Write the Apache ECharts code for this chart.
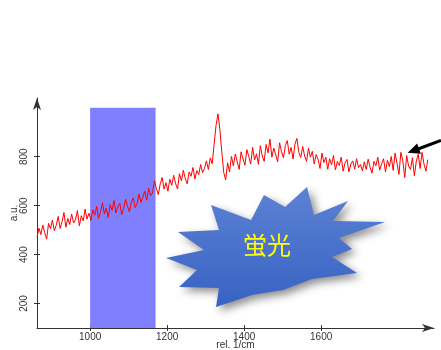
<!DOCTYPE html>
<html>
<head>
<meta charset="utf-8">
<style>
  html, body { margin: 0; padding: 0; background: #fff; }
  #chart { width: 441px; height: 350px; }
</style>
<script src="https://cdn.jsdelivr.net/npm/echarts@6/dist/echarts.min.js"></script>
</head>
<body>
<div id="chart"></div>
<script>
// Raman spectrum: intensity samples every 5 rel. 1/cm starting at 862
const waveStart = 862;
const waveStep = 5;
const intensity = [
  // 862 - 997
  470, 508, 482, 521, 490, 463, 528, 505, 541, 498, 520, 556, 507, 534, 572, 512, 548, 523, 566, 529, 543, 580, 518, 559, 538, 586, 545, 569,
  // 1002 - 1157
  540, 583, 561, 597, 548, 575, 612, 566, 590, 552, 604, 581, 621, 570, 596, 610, 563, 589, 626, 598, 575, 615, 632, 592, 608, 647, 613, 636, 659, 622, 671, 640,
  // 1162 - 1297
  652, 702, 671, 645, 689, 715, 668, 694, 659, 708, 683, 724, 690, 668, 731, 702, 745, 712, 689, 738, 720, 756, 709, 743, 727, 768, 735, 752,
  // 1302 - 1367 (band near 1332)
  783, 748, 795, 771, 852, 928, 975, 910, 818, 735, 705, 775, 738, 801,
  // 1372 - 1547
  763, 811, 779, 748, 820, 792, 765, 829, 801, 770, 838, 787, 812, 769, 845, 803, 781, 850, 816, 872, 798, 835, 808, 779, 857, 821, 796, 846, 866, 810, 838, 791, 852, 875, 818, 797,
  // 1552 - 1707
  842, 803, 781, 835, 798, 822, 770, 809, 788, 752, 815, 776, 798, 749, 792, 767, 805, 746, 781, 764, 798, 741, 775, 789, 738, 770, 783, 749, 792, 755, 768, 742,
  // 1712 - 1877
  779, 748, 790, 757, 733, 781, 762, 798, 745, 771, 792, 738, 786, 760, 801, 744, 815, 772, 728, 818, 783, 715, 805, 762, 748, 796, 722, 781, 810, 752, 818, 770, 741, 788
];

// Highlighted window
const bandRange = [1000, 1170];
const bandHeight = [100, 1000];

// Axis ticks
const xTicks = [1000, 1200, 1400, 1600];
const yTicks = [200, 400, 600, 800];

const points = intensity.map((v, i) => [waveStart + i * waveStep, v]);

const chart = echarts.init(document.getElementById('chart'));

const axisColor = '#333';
const font = 'Liberation Sans, Arial, sans-serif';
const plain = v => String(v);

// Starburst outline (pixels)
const starPoints = [
  [264,195],[285,207],[307,187],[314,215],[348,201],[333,221],[385,222],[339,238],
  [352,249],[332,257],[357,273],[312,279],[283,290],[252,295],[216,307],[219,288],
  [179,287],[197,270],[166,258],[204,250],[178,232],[219,230],[211,205],[251,220]
];

chart.setOption({
  animation: false,
  backgroundColor: '#fff',
  grid: { left: 37, right: 7, top: 98, bottom: 22, containLabel: false, outerBoundsMode: 'none' },
  xAxis: [{
    type: 'value', position: 'bottom', min: 862, max: 1893,
    name: 'rel. 1/cm', nameLocation: 'middle', nameGap: 12, nameMoveOverlap: false,
    nameTextStyle: { color: axisColor, fontSize: 10, fontFamily: font },
    axisLine: { show: true, symbol: ['none', 'arrow'], symbolSize: [6, 12], lineStyle: { color: axisColor, width: 1 } },
    axisTick: { show: true, length: 3, customValues: xTicks, lineStyle: { color: axisColor } },
    axisLabel: { customValues: xTicks, formatter: plain, margin: 4, color: axisColor, fontSize: 10, fontFamily: font },
    splitLine: { show: false }
  }, {
    type: 'value', position: 'bottom', min: 862, max: 1893,
    axisLine: { show: false },
    axisTick: { show: true, inside: true, length: 3, customValues: xTicks, lineStyle: { color: axisColor } },
    axisLabel: { show: false },
    splitLine: { show: false }
  }],
  yAxis: [{
    type: 'value', position: 'left', min: 100, max: 1040,
    name: 'a.u.', nameLocation: 'middle', nameGap: 18, nameMoveOverlap: false,
    nameTextStyle: { color: axisColor, fontSize: 10, fontFamily: font },
    axisLine: { show: true, symbol: ['none', 'arrow'], symbolSize: [6, 12], lineStyle: { color: axisColor, width: 1 } },
    axisTick: { show: true, length: 3, customValues: yTicks, lineStyle: { color: axisColor } },
    axisLabel: { customValues: yTicks, formatter: plain, rotate: 90, margin: 8, color: axisColor, fontSize: 10, fontFamily: font },
    splitLine: { show: false }
  }, {
    type: 'value', position: 'left', min: 100, max: 1040,
    axisLine: { show: false },
    axisTick: { show: true, inside: true, length: 3, customValues: yTicks, lineStyle: { color: axisColor } },
    axisLabel: { show: false },
    splitLine: { show: false }
  }],
  series: [{
    type: 'line',
    data: [],
    z: 1,
    silent: true,
    markArea: {
      silent: true,
      itemStyle: { color: 'rgb(128,128,255)', opacity: 1 },
      data: [[{ xAxis: bandRange[0], yAxis: bandHeight[0] }, { xAxis: bandRange[1], yAxis: bandHeight[1] }]]
    }
  }, {
    type: 'line',
    data: points,
    z: 3,
    showSymbol: false,
    lineStyle: { color: '#ff0000', width: 1 },
    silent: true
  }],
  graphic: [{
    type: 'polygon',
    z: 10,
    shape: { points: starPoints },
    style: {
      fill: new echarts.graphic.LinearGradient(0, 0, 0, 1, [
        { offset: 0, color: '#5c82d3' },
        { offset: 1, color: '#3862c4' }
      ]),
      shadowBlur: 8,
      shadowColor: 'rgba(0,0,0,0.45)',
      shadowOffsetX: 4,
      shadowOffsetY: 4
    }
  }, {
    type: 'text',
    z: 11,
    x: 267, y: 245,
    style: {
      text: '蛍光',
      fill: '#ffff00',
      font: '24px "Noto Sans CJK JP"',
      align: 'center',
      verticalAlign: 'middle'
    }
  }, {
    type: 'line',
    z: 11,
    shape: { x1: 441, y1: 140.5, x2: 418, y2: 149 },
    style: { stroke: '#000', lineWidth: 3 }
  }, {
    type: 'polygon',
    z: 11,
    shape: { points: [[407.7, 152.7], [417.1, 143.4], [420.9, 153.8]] },
    style: { fill: '#000' }
  }]
});
</script>
</body>
</html>
